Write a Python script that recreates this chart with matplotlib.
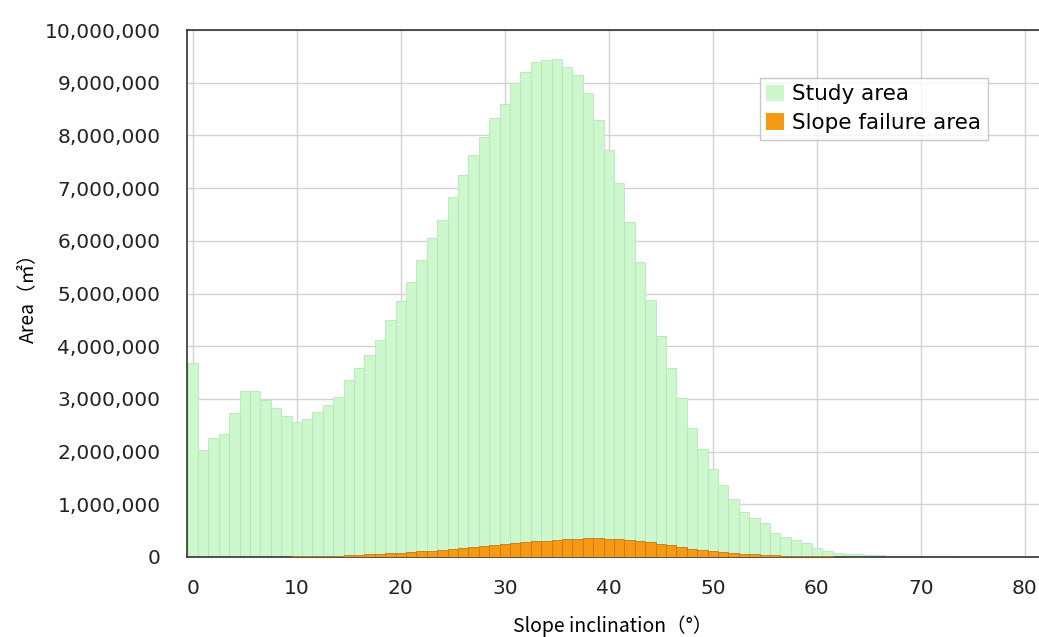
import matplotlib.pyplot as plt
from matplotlib.ticker import FuncFormatter

# slope inclination classes (1 degree bins)
slope_deg = list(range(0, 81))

# study area per class (million m2)
study_area_m = [
    3.68, 2.03, 2.26, 2.33, 2.73, 3.15, 3.15, 2.98, 2.83, 2.68,
    2.57, 2.62, 2.75, 2.88, 3.04, 3.36, 3.59, 3.83, 4.12, 4.50,
    4.85, 5.22, 5.64, 6.05, 6.39, 6.83, 7.25, 7.63, 7.97, 8.33,
    8.60, 9.00, 9.20, 9.39, 9.43, 9.45, 9.30, 9.15, 8.80, 8.29,
    7.72, 7.10, 6.36, 5.60, 4.88, 4.19, 3.58, 3.01, 2.44, 2.05,
    1.67, 1.37, 1.10, 0.85, 0.74, 0.65, 0.46, 0.38, 0.32, 0.26,
    0.17, 0.12, 0.08, 0.06, 0.05, 0.04, 0.03, 0.025, 0.02, 0.018,
    0.015, 0.012, 0.011, 0.010, 0.009, 0.008, 0.007, 0.006, 0.005, 0.005,
    0.004,
]

# slope failure area per class (million m2)
failure_area_m = [
    0.003, 0.003, 0.004, 0.004, 0.005, 0.005, 0.006, 0.006, 0.007, 0.008,
    0.010, 0.014, 0.018, 0.022, 0.027, 0.035, 0.045, 0.055, 0.065, 0.075,
    0.085, 0.10, 0.11, 0.12, 0.14, 0.15, 0.17, 0.19, 0.21, 0.23,
    0.25, 0.26, 0.28, 0.30, 0.31, 0.33, 0.34, 0.35, 0.36, 0.36,
    0.35, 0.34, 0.32, 0.30, 0.28, 0.25, 0.22, 0.19, 0.16, 0.14,
    0.12, 0.10, 0.08, 0.06, 0.05, 0.04, 0.03, 0.02, 0.02, 0.015,
    0.012, 0.01, 0.008, 0.006, 0.005, 0.004, 0.003, 0.003, 0.002, 0.002,
    0.002, 0.001, 0.001, 0.001, 0.001, 0.001, 0.001, 0.001, 0.001, 0.001,
    0.001,
]

study_area = [v * 1e6 for v in study_area_m]
failure_area = [v * 1e6 for v in failure_area_m]

plt.rcParams['font.family'] = ['DejaVu Sans', 'Noto Sans CJK JP']

fig = plt.figure(figsize=(10.39, 6.37), dpi=100)
ax = fig.add_axes([187 / 1039, 80 / 637, 852 / 1039, 527 / 637])

ax.bar(slope_deg, study_area, width=1.0, color='#cdf7cd', edgecolor='#b8e6b8',
       linewidth=0.6, label='Study area', zorder=2)
ax.bar(slope_deg, failure_area, width=1.0, color='#f59a12', edgecolor='#c47810',
       linewidth=0.6, label='Slope failure area', zorder=3)

ax.set_xlim(-0.55, 81.35)
ax.set_ylim(0, 10_000_000)
ax.set_xticks(range(0, 81, 10))
ax.set_yticks(range(0, 10_000_001, 1_000_000))
ax.yaxis.set_major_formatter(FuncFormatter(lambda v, p: f"{int(v):,}"))

ax.grid(True, color='#d2d2d2', linewidth=1.0, zorder=0)
ax.set_axisbelow(True)
ax.tick_params(axis='both', length=0, labelsize=14.5, colors='#222222')
ax.tick_params(axis='x', pad=16)
ax.tick_params(axis='y', pad=19)

for s in ['left', 'bottom', 'top']:
    ax.spines[s].set_color('#333333')
    ax.spines[s].set_linewidth(1.2)
ax.spines['right'].set_visible(False)

ax.set_xlabel('Slope inclination（°）', fontsize=14, labelpad=12,
              family=['Noto Sans CJK JP', 'DejaVu Sans'])
ax.set_ylabel('Area（㎡）', fontsize=14, labelpad=5,
              family=['Noto Sans CJK JP', 'DejaVu Sans'])

leg = ax.legend(loc='upper left', bbox_to_anchor=((760 - 187) / 852, (559 - 80) / 527),
                fontsize=15.5, frameon=True, fancybox=False, handlelength=0.8,
                handleheight=0.8, handletextpad=0.4, borderpad=0.3,
                labelspacing=0.4, borderaxespad=0)
leg.get_frame().set_edgecolor('#bbbbbb')
leg.get_frame().set_linewidth(1.0)
for h in leg.legend_handles:
    h.set_edgecolor('none')

fig.savefig('out.png', dpi=100)
